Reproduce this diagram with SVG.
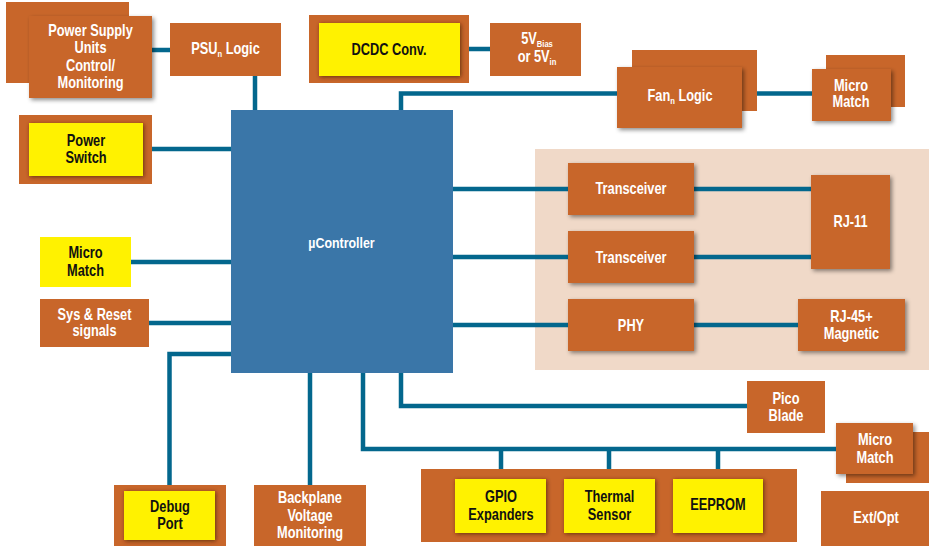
<svg xmlns="http://www.w3.org/2000/svg" width="929" height="546" viewBox="0 0 929 546">
<defs>
<filter id="sh" x="-20%" y="-20%" width="140%" height="150%">
<feDropShadow dx="2" dy="2" stdDeviation="2" flood-color="#000" flood-opacity="0.45"/>
</filter>
<filter id="shy" x="-20%" y="-20%" width="140%" height="150%">
<feDropShadow dx="1" dy="1" stdDeviation="2.2" flood-color="#3a1a00" flood-opacity="0.7"/>
</filter>
</defs>
<style>
.o{fill:#c8662a}
.y{fill:#fff200}
.uc{fill:#3a76a8}
.pan{fill:#f0d9c8}
.c{fill:none;stroke:#03678d;stroke-width:4.5}
text{font-family:"Liberation Sans",Arial,sans-serif;font-weight:bold;font-size:16px;text-anchor:middle}
.w{fill:#ffffff}
.k{fill:#111111}
.s{font-size:9.5px}
</style>
<rect class="pan" x="535" y="149" width="394" height="221"/>
<g id="connectors">
<path class="c" d="M152,50H170"/>
<path class="c" d="M255,76V110"/>
<path class="c" d="M152,149H231"/>
<path class="c" d="M469,49H490"/>
<path class="c" d="M401,110V93.5H617"/>
<path class="c" d="M742,93.5H812"/>
<path class="c" d="M131,262H231"/>
<path class="c" d="M149,323H231"/>
<path class="c" d="M231,354H169.5V485"/>
<path class="c" d="M310,373V485"/>
<path class="c" d="M363,373V449H836"/>
<path class="c" d="M401,373V406H747"/>
<path class="c" d="M501,449V469M609,449V469M718,449V469"/>
<path class="c" d="M453,189H568M694,189H811"/>
<path class="c" d="M453,257H568M694,257H811"/>
<path class="c" d="M453,325H568M694,325H798"/>
</g>
<g id="psu-control">
<rect class="o" x="6" y="2" width="123" height="81"/>
<rect class="o" x="29" y="16" width="123" height="82" filter="url(#sh)"/>
<text class="w" transform="translate(90.5 0) scale(0.8 1)"><tspan x="0" y="36">Power Supply</tspan><tspan x="0" y="53">Units</tspan><tspan x="0" y="71">Control/</tspan><tspan x="0" y="88">Monitoring</tspan></text>
</g>
<g id="psu-logic">
<rect class="o" x="170" y="23" width="111" height="53"/>
<text class="w" transform="translate(225.5 0) scale(0.8 1)" y="54">PSU<tspan class="s" dy="3">n</tspan><tspan dy="-3"> Logic</tspan></text>
</g>
<g id="power-switch">
<rect class="o" x="19" y="115" width="133" height="69"/>
<rect class="y" x="29" y="123" width="114" height="53" filter="url(#shy)"/>
<text class="k" transform="translate(86 0) scale(0.8 1)"><tspan x="0" y="146">Power</tspan><tspan x="0" y="163">Switch</tspan></text>
</g>
<g id="dcdc">
<rect class="o" x="309" y="15" width="160" height="68"/>
<rect class="y" x="319" y="23" width="141" height="53" filter="url(#shy)"/>
<text class="k" transform="translate(389 0) scale(0.8 1)" y="55">DCDC Conv.</text>
</g>
<g id="five-v">
<rect class="o" x="490" y="23" width="91" height="53"/>
<text class="w" transform="translate(537 0) scale(0.8 1)"><tspan x="0" y="44">5V<tspan class="s" dy="3">Bias</tspan></tspan><tspan x="0" y="62">or 5V<tspan class="s" dy="3">in</tspan></tspan></text>
</g>
<g id="fan-logic">
<rect class="o" x="632" y="50" width="125" height="61"/>
<rect class="o" x="617" y="67" width="125" height="61" filter="url(#sh)"/>
<text class="w" transform="translate(680 0) scale(0.8 1)" y="101">Fan<tspan class="s" dy="3">n</tspan><tspan dy="-3"> Logic</tspan></text>
</g>
<g id="micro-match-top">
<rect class="o" x="826" y="55" width="79" height="52"/>
<rect class="o" x="812" y="69" width="79" height="52" filter="url(#sh)"/>
<text class="w" transform="translate(851 0) scale(0.8 1)"><tspan x="0" y="91">Micro</tspan><tspan x="0" y="107">Match</tspan></text>
</g>
<g id="ucontroller">
<rect class="uc" x="231" y="110" width="222" height="263"/>
<text class="w" transform="translate(341.5 0) scale(0.8 1)" y="248" style="font-size:15.5px">µController</text>
</g>
<g id="transceiver-1">
<rect class="o" x="568" y="163" width="126" height="52" filter="url(#sh)"/>
<text class="w" transform="translate(631 0) scale(0.8 1)" y="194">Transceiver</text>
</g>
<g id="transceiver-2">
<rect class="o" x="568" y="231" width="126" height="52" filter="url(#sh)"/>
<text class="w" transform="translate(631 0) scale(0.8 1)" y="263">Transceiver</text>
</g>
<g id="phy">
<rect class="o" x="568" y="299" width="126" height="52" filter="url(#sh)"/>
<text class="w" transform="translate(631 0) scale(0.8 1)" y="331">PHY</text>
</g>
<g id="rj11">
<rect class="o" x="811" y="175" width="79" height="94" filter="url(#sh)"/>
<text class="w" transform="translate(850.5 0) scale(0.8 1)" y="227">RJ-11</text>
</g>
<g id="rj45">
<rect class="o" x="798" y="299" width="107" height="52" filter="url(#sh)"/>
<text class="w" transform="translate(851.5 0) scale(0.8 1)"><tspan x="0" y="322">RJ-45+</tspan><tspan x="0" y="339">Magnetic</tspan></text>
</g>
<g id="micro-match-left">
<rect class="y" x="40" y="237" width="91" height="50"/>
<text class="k" transform="translate(85.5 0) scale(0.8 1)"><tspan x="0" y="258">Micro</tspan><tspan x="0" y="276">Match</tspan></text>
</g>
<g id="sys-reset">
<rect class="o" x="40" y="299" width="109" height="48"/>
<text class="w" transform="translate(94.5 0) scale(0.8 1)"><tspan x="0" y="320">Sys &amp; Reset</tspan><tspan x="0" y="336">signals</tspan></text>
</g>
<g id="debug-port">
<rect class="o" x="114" y="485" width="112" height="61"/>
<rect class="y" x="124" y="491" width="91" height="49" filter="url(#shy)"/>
<text class="k" transform="translate(170 0) scale(0.8 1)"><tspan x="0" y="512">Debug</tspan><tspan x="0" y="529">Port</tspan></text>
</g>
<g id="backplane">
<rect class="o" x="254" y="485" width="112" height="61"/>
<text class="w" transform="translate(310 0) scale(0.8 1)"><tspan x="0" y="503">Backplane</tspan><tspan x="0" y="521">Voltage</tspan><tspan x="0" y="538">Monitoring</tspan></text>
</g>
<g id="pico-blade">
<rect class="o" x="747" y="381" width="78" height="52"/>
<text class="w" transform="translate(786 0) scale(0.8 1)"><tspan x="0" y="404">Pico</tspan><tspan x="0" y="421">Blade</tspan></text>
</g>
<g id="micro-match-bottom">
<rect class="o" x="846" y="432" width="83" height="51"/>
<rect class="o" x="836" y="423" width="77" height="51" filter="url(#sh)"/>
<text class="w" transform="translate(875 0) scale(0.8 1)"><tspan x="0" y="445">Micro</tspan><tspan x="0" y="463">Match</tspan></text>
</g>
<g id="peripherals">
<rect class="o" x="421" y="469" width="376" height="73"/>
</g>
<g id="gpio">
<rect class="y" x="455" y="479" width="91" height="54" filter="url(#shy)"/>
<text class="k" transform="translate(501 0) scale(0.8 1)"><tspan x="0" y="502">GPIO</tspan><tspan x="0" y="520">Expanders</tspan></text>
</g>
<g id="thermal">
<rect class="y" x="564" y="479" width="91" height="54" filter="url(#shy)"/>
<text class="k" transform="translate(609.5 0) scale(0.8 1)"><tspan x="0" y="502">Thermal</tspan><tspan x="0" y="520">Sensor</tspan></text>
</g>
<g id="eeprom">
<rect class="y" x="673" y="479" width="90" height="54" filter="url(#shy)"/>
<text class="k" transform="translate(718 0) scale(0.8 1)" y="510">EEPROM</text>
</g>
<g id="ext-opt">
<rect class="o" x="821" y="491" width="108" height="55"/>
<text class="w" transform="translate(876 0) scale(0.8 1)" y="523">Ext/Opt</text>
</g>
</svg>
